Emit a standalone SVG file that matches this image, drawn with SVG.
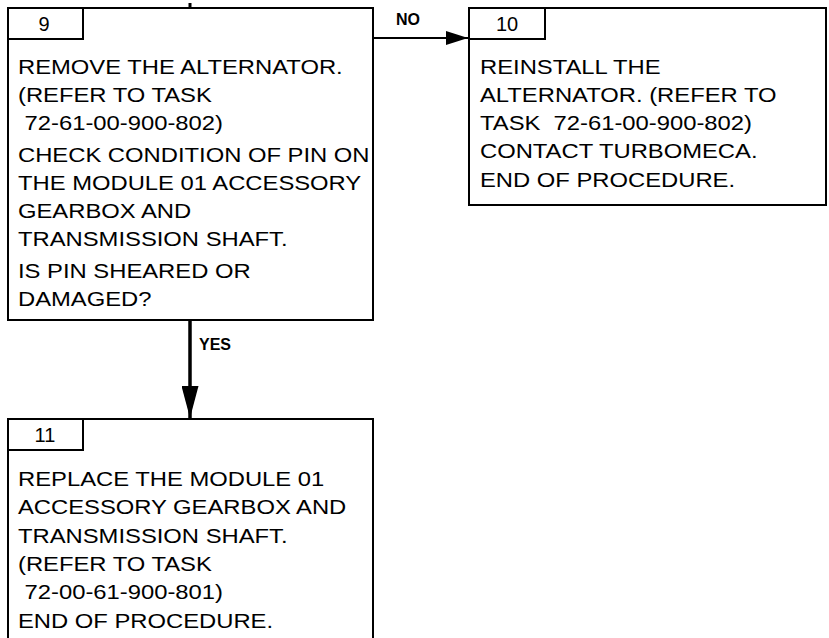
<svg xmlns="http://www.w3.org/2000/svg" width="829" height="638" viewBox="0 0 829 638">
<style>
.box{fill:#fff;stroke:#000;stroke-width:2}
.t{font-family:"Liberation Sans",Arial,sans-serif;font-size:20px;fill:#000}
.lbl{font-family:"Liberation Sans",Arial,sans-serif;font-size:16px;font-weight:bold;fill:#000}
.num{font-family:"Liberation Sans",Arial,sans-serif;font-size:20px;fill:#000;text-anchor:middle}
.conn{stroke:#000;fill:none}
</style>
<defs>
<marker id="ahH" markerWidth="22" markerHeight="14" refX="22" refY="7" orient="auto" markerUnits="userSpaceOnUse">
<path d="M0,0 L22,7 L0,14 Z" fill="#000"/>
</marker>
<marker id="ahV" markerWidth="32" markerHeight="17" refX="32" refY="8.5" orient="auto" markerUnits="userSpaceOnUse">
<path d="M0,0 L32,8.5 L0,17 Z" fill="#000"/>
</marker>
</defs>
<rect width="829" height="638" fill="#fff"/>
<g id="connectors">
<line class="conn" x1="190" y1="3" x2="190" y2="8" stroke-width="3"/>
<line class="conn" x1="373" y1="38" x2="468" y2="38" stroke-width="2" marker-end="url(#ahH)"/>
<line class="conn" x1="190" y1="321" x2="190" y2="418" stroke-width="3.5" marker-end="url(#ahV)"/>
<text class="lbl" x="396" y="25">NO</text>
<text class="lbl" x="199" y="350">YES</text>
</g>
<g id="node9">
<rect class="box" x="8" y="8" width="365" height="312"/>
<rect class="box" x="8" y="8" width="75" height="31"/>
<text class="num" x="44" y="31">9</text>
<g transform="matrix(1.19,0,0,1,18,0)">
<text class="t" x="0" y="74">REMOVE THE ALTERNATOR.</text>
<text class="t" x="0" y="102">(REFER TO TASK</text>
<text class="t" x="0" y="130" xml:space="preserve"> 72-61-00-900-802)</text>
<text class="t" x="0" y="162">CHECK CONDITION OF PIN ON</text>
<text class="t" x="0" y="190">THE MODULE 01 ACCESSORY</text>
<text class="t" x="0" y="218">GEARBOX AND</text>
<text class="t" x="0" y="246">TRANSMISSION SHAFT.</text>
<text class="t" x="0" y="278">IS PIN SHEARED OR</text>
<text class="t" x="0" y="306">DAMAGED?</text>
</g>
</g>
<g id="node10">
<rect class="box" x="469" y="8" width="357" height="197"/>
<rect class="box" x="469" y="8" width="76" height="31"/>
<text class="num" x="507" y="31">10</text>
<g transform="matrix(1.19,0,0,1,480,0)">
<text class="t" x="0" y="74">REINSTALL THE</text>
<text class="t" x="0" y="102">ALTERNATOR. (REFER TO</text>
<text class="t" x="0" y="130" xml:space="preserve">TASK  72-61-00-900-802)</text>
<text class="t" x="0" y="158">CONTACT TURBOMECA.</text>
<text class="t" x="0" y="187">END OF PROCEDURE.</text>
</g>
</g>
<g id="node11">
<rect class="box" x="8" y="419" width="365" height="230"/>
<rect class="box" x="8" y="419" width="75" height="31"/>
<text class="num" x="45" y="442">11</text>
<g transform="matrix(1.19,0,0,1,18,0)">
<text class="t" x="0" y="486">REPLACE THE MODULE 01</text>
<text class="t" x="0" y="514">ACCESSORY GEARBOX AND</text>
<text class="t" x="0" y="543">TRANSMISSION SHAFT.</text>
<text class="t" x="0" y="571">(REFER TO TASK</text>
<text class="t" x="0" y="599" xml:space="preserve"> 72-00-61-900-801)</text>
<text class="t" x="0" y="628">END OF PROCEDURE.</text>
</g>
</g>
</svg>
